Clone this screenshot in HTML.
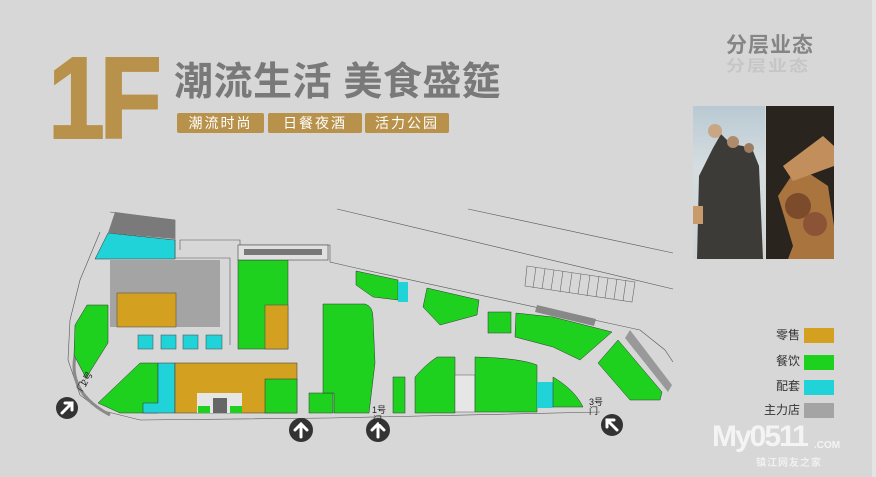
<!DOCTYPE html>
<html><head><meta charset="utf-8"><style>
html,body{margin:0;padding:0}
body{width:876px;height:477px;background:#d7d7d7;position:relative;overflow:hidden;font-family:"Liberation Sans","Noto Sans CJK SC",sans-serif}
.abs{position:absolute}
</style></head><body>
<div class="abs" style="left:872px;top:0;width:4px;height:477px;background:#e4e4e4"></div>
<div class="abs" style="left:48px;top:40px;font-size:116px;font-weight:bold;color:#b8914a;letter-spacing:-6px;line-height:1;font-family:'Liberation Sans',sans-serif;transform:scaleX(0.88);transform-origin:left;-webkit-text-stroke:2px #b8914a">1F</div>
<div class="abs" style="left:174px;top:62px;font-size:39px;font-weight:bold;color:#797979;line-height:1.1;white-space:nowrap;letter-spacing:0.5px;font-family:'Liberation Sans','Noto Sans CJK SC',sans-serif">潮流生活 美食盛筵</div>
<div class="abs" style="left:177px;top:113px;width:87px;height:20px;background:#b8914a;border-radius:2px;color:#fff;font-size:14px;line-height:20px;text-align:center;letter-spacing:2px">潮流时尚</div>
<div class="abs" style="left:268px;top:113px;width:94px;height:20px;background:#b8914a;border-radius:2px;color:#fff;font-size:14px;line-height:20px;text-align:center;letter-spacing:2px">日餐夜酒</div>
<div class="abs" style="left:365px;top:113px;width:84px;height:20px;background:#b8914a;border-radius:2px;color:#fff;font-size:14px;line-height:20px;text-align:center;letter-spacing:2px">活力公园</div>
<div class="abs" style="left:726px;top:35px;font-size:21px;font-weight:bold;color:#858585;line-height:1;letter-spacing:1px">分层业态</div>
<div class="abs" style="left:726px;top:59px;font-size:19px;font-weight:bold;color:#c6c6c6;line-height:1;letter-spacing:2px;transform:scaleY(0.8);transform-origin:top">分层业态</div>
<svg class="abs" style="left:693px;top:106px" width="141" height="154">
<defs><linearGradient id="sky" x1="0" y1="0" x2="0" y2="1"><stop offset="0" stop-color="#b9c9d3"/><stop offset="0.4" stop-color="#d5dde0"/><stop offset="1" stop-color="#cfd3d4"/></linearGradient></defs>
<rect x="0" y="0" width="72" height="153" fill="url(#sky)"/>
<path d="M4,153 L6,70 L20,42 L28,28 L38,38 L50,40 L60,45 L66,60 L70,153 Z" fill="#3d3b37"/>
<circle cx="22" cy="25" r="7" fill="#c9a684"/><circle cx="40" cy="36" r="6" fill="#b08a6c"/><circle cx="56" cy="42" r="5" fill="#9e7c62"/>
<rect x="0" y="100" width="10" height="18" fill="#c89a6c"/>
<rect x="73" y="0" width="68" height="153" fill="#2a241e"/>
<path d="M100,140 L85,90 L105,60 L135,80 L141,120 L141,153 L95,153Z" fill="#a9743e"/>
<circle cx="105" cy="100" r="13" fill="#7c4b2c"/><circle cx="122" cy="118" r="12" fill="#8b5436"/>
<path d="M90,60 L130,30 L141,40 L141,60 L100,75Z" fill="#c28f5c"/>
</svg>
<svg class="abs" style="left:0;top:0" width="876" height="477">
<g stroke="#555" stroke-width="0.6" fill="none">
<line x1="337" y1="209" x2="673" y2="289"/><line x1="468" y1="209" x2="673" y2="253"/>
<path d="M180,250 L180,240 L240,240 L240,245 L330,245 L330,262 L356,268 L640,330 L665,350 L673,362"/>
<path d="M110,212 L175,220 L175,258 L230,258 L230,345 M100,232 L80,280 L70,320 L68,360 L80,395 L100,410 L140,420 L330,418 L600,412"/>
<g stroke="#666">
<path d="M527,266 L635,282 L632,302 L525,286Z"/>
<path d="M536,267 L533,288 M545,269 L542,289 M554,270 L551,290 M563,271 L560,292 M572,273 L569,293 M581,274 L578,294 M590,275 L587,296 M599,276 L596,297 M608,278 L605,298 M617,279 L614,299 M626,280 L623,301"/>
</g>
</g>
<path d="M78,345 Q62,390 110,415" stroke="#8a8a8a" stroke-width="3" fill="none"/>
<path d="M108,233 L175,240 L175,259 L95,259Z" fill="#1fd3d8" stroke="#333" stroke-width="0.5"/>
<path d="M115,212 L175,220 L175,239 L108,233Z" fill="#7a7a7a"/>
<rect x="110" y="260" width="110" height="67" fill="#a4a4a4"/>
<rect x="117" y="293" width="59" height="34" fill="#d4a020" stroke="#444" stroke-width="0.5"/>
<g fill="#1fd3d8" stroke="#444" stroke-width="0.5"><rect x="138" y="335" width="15" height="14"/><rect x="161" y="335" width="15" height="14"/><rect x="183" y="335" width="15" height="14"/><rect x="206" y="335" width="16" height="14"/></g>
<rect x="238" y="260" width="50" height="89" fill="#1fd11f" stroke="#333" stroke-width="0.5"/>
<rect x="238" y="245" width="90" height="15" fill="#e0e0e0" stroke="#444" stroke-width="0.6"/>
<rect x="244" y="249" width="78" height="6" fill="#777"/>
<rect x="265" y="305" width="23" height="44" fill="#d4a020" stroke="#444" stroke-width="0.5"/>
<path d="M87,305 L108,305 L108,343 L86,378 L74,355 L75,325Z" fill="#1fd11f" stroke="#333" stroke-width="0.5"/>
<path d="M98,403 L140,363 L158,363 L158,413 L120,413Z" fill="#1fd11f" stroke="#333" stroke-width="0.5"/>
<path d="M158,363 L175,363 L175,413 L143,413 L143,403 L158,403Z" fill="#1fd3d8" stroke="#333" stroke-width="0.5"/>
<rect x="175" y="363" width="122" height="50" fill="#d4a020" stroke="#333" stroke-width="0.5"/>
<rect x="265" y="379" width="32" height="34" fill="#1fd11f" stroke="#333" stroke-width="0.5"/>
<rect x="197" y="393" width="45" height="20" fill="#e6e6e6"/>
<rect x="198" y="406" width="12" height="7" fill="#1fd11f"/><rect x="230" y="406" width="12" height="7" fill="#1fd11f"/>
<rect x="213" y="398" width="14" height="15" fill="#666"/>
<rect x="309" y="393" width="24" height="20" fill="#1fd11f" stroke="#333" stroke-width="0.5"/>
<path d="M323,304 L365,304 Q373,306 373,318 L375,363 L369,413 L334,413 L334,393 L323,393 L323,345Z" fill="#1fd11f" stroke="#333" stroke-width="0.5"/>
<path d="M356,271 L398,280 L398,300 L373,297 L356,285Z" fill="#1fd11f" stroke="#333" stroke-width="0.5"/>
<rect x="398" y="282" width="10" height="20" fill="#1fd3d8"/>
<path d="M427,288 L479,300 L477,315 L440,325 L423,307Z" fill="#1fd11f" stroke="#333" stroke-width="0.5"/>
<rect x="488" y="312" width="23" height="21" fill="#1fd11f" stroke="#333" stroke-width="0.5"/>
<path d="M516,313 L553,317 L612,332 L580,360 L553,347 L515,337Z" fill="#1fd11f" stroke="#333" stroke-width="0.5"/>
<path d="M537,305 L596,319 L594,326 L535,312Z" fill="#888"/>
<path d="M618,340 L662,392 L660,400 L630,400 L598,363Z" fill="#1fd11f" stroke="#333" stroke-width="0.5"/>
<path d="M630,330 L672,385 L668,392 L625,338Z" fill="#999"/>
<rect x="393" y="377" width="12" height="36" fill="#1fd11f" stroke="#333" stroke-width="0.5"/>
<path d="M415,377 Q425,365 437,357 L455,357 L455,413 L415,413Z" fill="#1fd11f" stroke="#333" stroke-width="0.5"/>
<rect x="455" y="375" width="20" height="37" fill="#e6e6e6" stroke="#555" stroke-width="0.5"/>
<path d="M475,357 Q520,358 537,365 L537,412 L475,412Z" fill="#1fd11f" stroke="#333" stroke-width="0.5"/>
<rect x="537" y="382" width="16" height="26" fill="#1fd3d8"/>
<path d="M553,377 Q575,390 583,407 L553,407Z" fill="#1fd11f" stroke="#333" stroke-width="0.5"/>
<g fill="#333"><circle cx="67" cy="408" r="11"/><circle cx="301" cy="430" r="12"/><circle cx="378" cy="430" r="12"/><circle cx="612" cy="425" r="11"/></g>
<g stroke="#fff" stroke-width="3" fill="none" stroke-linecap="round">
<path d="M62,413 L72,403 M65,403 L72,403 L72,410"/>
<path d="M301,437 L301,424 M295,430 L301,424 L307,430"/>
<path d="M378,437 L378,424 M372,430 L378,424 L384,430"/>
<path d="M617,430 L607,420 M607,427 L607,420 L614,420"/>
</g>
<g font-size="9" fill="#222"><text x="372" y="413">1号</text><text x="373" y="423">门</text><text x="589" y="405">3号</text><text x="589" y="414">门</text>
<text x="86" y="386" transform="rotate(-60 86 386)">2号</text><text x="82" y="392" transform="rotate(-60 82 392)">门</text></g>
</svg>
<div class="abs" style="left:740px;top:326px;width:60px;text-align:right;font-size:12px;color:#333;line-height:18px">零售</div>
<div class="abs" style="left:804px;top:328px;width:30px;height:15px;background:#d4a020"></div>
<div class="abs" style="left:740px;top:352px;width:60px;text-align:right;font-size:12px;color:#333;line-height:18px">餐饮</div>
<div class="abs" style="left:804px;top:355px;width:30px;height:15px;background:#1fd11f"></div>
<div class="abs" style="left:740px;top:377px;width:60px;text-align:right;font-size:12px;color:#333;line-height:18px">配套</div>
<div class="abs" style="left:804px;top:380px;width:30px;height:15px;background:#1fd3d8"></div>
<div class="abs" style="left:740px;top:401px;width:60px;text-align:right;font-size:12px;color:#333;line-height:18px">主力店</div>
<div class="abs" style="left:804px;top:403px;width:30px;height:15px;background:#a4a4a4"></div>
<div class="abs" style="left:712px;top:422px;font-size:30px;font-weight:bold;color:#f4f4f4;letter-spacing:-2px;line-height:1">My0511</div>
<div class="abs" style="left:814px;top:440px;font-size:10px;font-weight:bold;color:#f4f4f4">.COM</div>
<div class="abs" style="left:756px;top:454px;font-size:10px;font-weight:bold;color:#f0f0f0;letter-spacing:1px">镇江网友之家</div>
</body></html>
